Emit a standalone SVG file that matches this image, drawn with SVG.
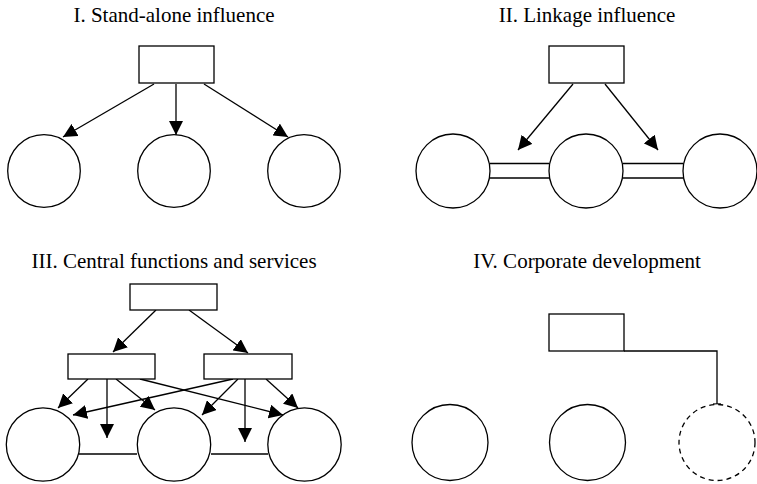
<svg xmlns="http://www.w3.org/2000/svg" width="757" height="484" viewBox="0 0 757 484">
<style>
.t{font-family:'Liberation Serif','Times New Roman',serif;font-size:21px;fill:#000;text-anchor:middle}
.n{fill:#fff;stroke:#000;stroke-width:1.3}
.d{fill:#fff;stroke:#000;stroke-width:1.3;stroke-dasharray:5,4}
.c line,.c path{stroke:#000;stroke-width:1.3;fill:none}
.a{marker-end:url(#ah)}
</style>
<defs>
<marker id="ah" markerUnits="userSpaceOnUse" markerWidth="14" markerHeight="14" refX="14" refY="7" orient="auto">
<path d="M0,0 L14,7 L0,14 z" fill="#000"/>
</marker>
</defs>
<rect width="757" height="484" fill="#fff"/>
<text class="t" x="174" y="22">I. Stand-alone influence</text>
<text class="t" x="587" y="22">II. Linkage influence</text>
<text class="t" x="174" y="268">III. Central functions and services</text>
<text class="t" x="587" y="268">IV. Corporate development</text>

<g id="connectors" class="c">
<line class="a" x1="154" y1="84" x2="63" y2="137"/>
<line class="a" x1="176" y1="84" x2="176" y2="135"/>
<line class="a" x1="204" y1="84" x2="288" y2="137"/>
<line class="a" x1="573" y1="84" x2="518" y2="150"/>
<line class="a" x1="605" y1="84" x2="658" y2="150"/>
<line x1="490" y1="163.5" x2="549" y2="163.5"/>
<line x1="490" y1="178" x2="549" y2="178"/>
<line x1="623" y1="163.5" x2="683" y2="163.5"/>
<line x1="623" y1="178" x2="683" y2="178"/>
<line class="a" x1="156" y1="310" x2="113" y2="352"/>
<line class="a" x1="189" y1="310" x2="248" y2="353"/>
<line class="a" x1="88" y1="379" x2="58" y2="408"/>
<line class="a" x1="107" y1="379" x2="107" y2="438"/>
<line class="a" x1="116" y1="379" x2="155" y2="410"/>
<line class="a" x1="140" y1="379" x2="283" y2="415"/>
<line class="a" x1="233" y1="379" x2="73" y2="415"/>
<line class="a" x1="238" y1="379" x2="202" y2="415"/>
<line class="a" x1="245" y1="379" x2="245" y2="442"/>
<line class="a" x1="266" y1="379" x2="298" y2="408"/>
<line x1="79" y1="454" x2="137" y2="454"/>
<line x1="211" y1="454" x2="268" y2="454"/>
<path d="M624,351 H717 V404"/>
<line x1="713" y1="404" x2="721" y2="404"/>
</g>

<g id="p1-box"><rect class="n" x="139" y="46" width="75" height="37"/></g>
<g id="p1-c1"><circle class="n" cx="44" cy="171" r="36.3"/></g>
<g id="p1-c2"><circle class="n" cx="174" cy="171" r="36.3"/></g>
<g id="p1-c3"><circle class="n" cx="304" cy="171" r="36.3"/></g>

<g id="p2-box"><rect class="n" x="549" y="46" width="75" height="37"/></g>
<g id="p2-c1"><circle class="n" cx="453" cy="171" r="37"/></g>
<g id="p2-c2"><circle class="n" cx="586" cy="171" r="37"/></g>
<g id="p2-c3"><circle class="n" cx="720" cy="171" r="37"/></g>

<g id="p3-top"><rect class="n" x="130" y="284" width="87" height="26"/></g>
<g id="p3-midL"><rect class="n" x="68" y="354" width="87" height="25"/></g>
<g id="p3-midR"><rect class="n" x="204" y="354" width="88" height="25"/></g>
<g id="p3-c1"><circle class="n" cx="43" cy="444.5" r="36.7"/></g>
<g id="p3-c2"><circle class="n" cx="174" cy="444.5" r="36.7"/></g>
<g id="p3-c3"><circle class="n" cx="304.5" cy="444.5" r="36.7"/></g>

<g id="p4-box"><rect class="n" x="549" y="314" width="75" height="37"/></g>
<g id="p4-c1"><circle class="n" cx="450" cy="442.5" r="38"/></g>
<g id="p4-c2"><circle class="n" cx="587.5" cy="442.5" r="38"/></g>
<g id="p4-c3"><circle class="d" cx="717" cy="442.5" r="38"/></g>
</svg>
